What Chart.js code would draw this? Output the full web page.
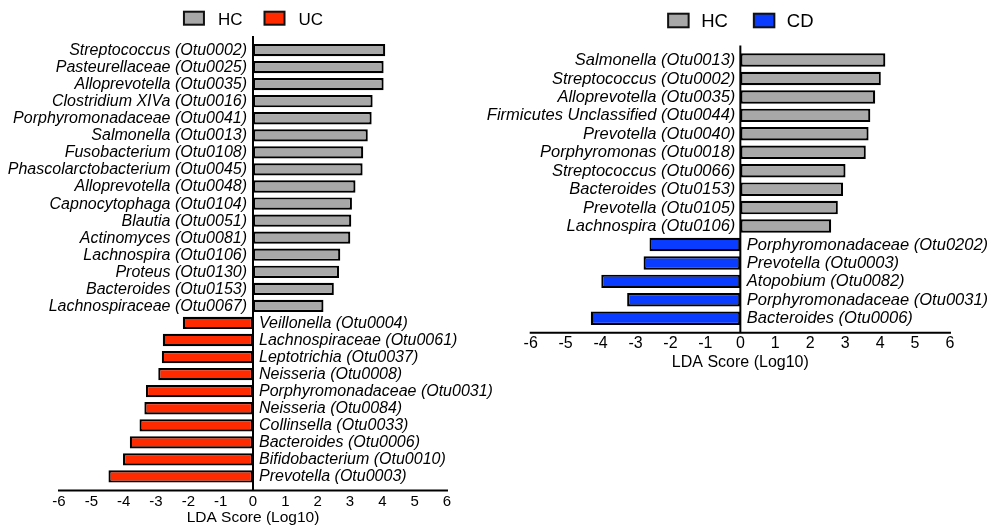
<!DOCTYPE html>
<html>
<head>
<meta charset="utf-8">
<script src="https://cdn.jsdelivr.net/npm/chart.js@4.4.1/dist/chart.umd.min.js"></script>
<style>
  html, body { margin: 0; padding: 0; background: #fff; }
  body { width: 989px; height: 527px; position: relative; overflow: hidden; }
  .wrap { position: absolute; top: 0; height: 527px; }
  #w1 { left: 0; width: 506px; }
  #w2 { left: 480px; width: 509px; }
</style>
</head>
<body>
<div class="wrap" id="w1"><canvas id="c1"></canvas></div>
<div class="wrap" id="w2"><canvas id="c2"></canvas></div>
<script>
// ---------- DATA ----------
const ticksX = [-6, -5, -4, -3, -2, -1, 0, 1, 2, 3, 4, 5, 6];
const axisTitle = 'LDA Score (Log10)';

// Panel 1: HC vs UC
const hcTaxaUC = [
  'Streptococcus (Otu0002)', 'Pasteurellaceae (Otu0025)', 'Alloprevotella (Otu0035)',
  'Clostridium XIVa (Otu0016)', 'Porphyromonadaceae (Otu0041)', 'Salmonella (Otu0013)',
  'Fusobacterium (Otu0108)', 'Phascolarctobacterium (Otu0045)', 'Alloprevotella (Otu0048)',
  'Capnocytophaga (Otu0104)', 'Blautia (Otu0051)', 'Actinomyces (Otu0081)',
  'Lachnospira (Otu0106)', 'Proteus (Otu0130)', 'Bacteroides (Otu0153)', 'Lachnospiraceae (Otu0067)'
];
const hcScoresUC = [4.09, 4.04, 4.04, 3.70, 3.67, 3.55, 3.41, 3.39, 3.17, 3.06, 3.04, 3.01, 2.70, 2.66, 2.50, 2.18];
const ucTaxa = [
  'Veillonella (Otu0004)', 'Lachnospiraceae (Otu0061)', 'Leptotrichia (Otu0037)',
  'Neisseria (Otu0008)', 'Porphyromonadaceae (Otu0031)', 'Neisseria (Otu0084)',
  'Collinsella (Otu0033)', 'Bacteroides (Otu0006)', 'Bifidobacterium (Otu0010)', 'Prevotella (Otu0003)'
];
const ucScores = [-2.17, -2.79, -2.82, -2.93, -3.31, -3.36, -3.51, -3.81, -4.02, -4.47];

// Panel 2: HC vs CD
const hcTaxaCD = [
  'Salmonella (Otu0013)', 'Streptococcus (Otu0002)', 'Alloprevotella (Otu0035)',
  'Firmicutes Unclassified (Otu0044)', 'Prevotella (Otu0040)', 'Porphyromonas (Otu0018)',
  'Streptococcus (Otu0066)', 'Bacteroides (Otu0153)', 'Prevotella (Otu0105)', 'Lachnospira (Otu0106)'
];
const hcScoresCD = [4.15, 4.02, 3.86, 3.72, 3.67, 3.59, 3.01, 2.94, 2.79, 2.60];
const cdTaxa = [
  'Porphyromonadaceae (Otu0202)', 'Prevotella (Otu0003)', 'Atopobium (Otu0082)',
  'Porphyromonadaceae (Otu0031)', 'Bacteroides (Otu0006)'
];
const cdScores = [-2.60, -2.77, -3.98, -3.24, -4.28];

// ---------- STYLE ----------
const FONT = '"Liberation Sans", Arial, Helvetica, sans-serif';
const GRAY = '#a8a8a8', RED = '#ff2a00', BLUE = '#0a3cff';

// Draw bar name labels next to the zero line (opposite side of each bar)
const barLabelPlugin = {
  id: 'barLabels',
  afterDatasetsDraw(chart, args, o) {
    const ctx = chart.ctx;
    const x0 = chart.scales.x.getPixelForValue(0);
    ctx.save();
    ctx.font = 'italic ' + o.size + 'px ' + FONT;
    ctx.fillStyle = '#000';
    ctx.textBaseline = 'middle';
    chart.data.datasets.forEach((ds, di) => {
      const meta = chart.getDatasetMeta(di);
      ds.data.forEach((v, i) => {
        if (v === null || v === undefined) return;
        const el = meta.data[i];
        if (v > 0) { ctx.textAlign = 'right'; ctx.fillText(chart.data.labels[i], x0 - o.gap, el.y + o.dy); }
        else { ctx.textAlign = 'left'; ctx.fillText(chart.data.labels[i], x0 + o.gapNeg, el.y + o.dy); }
      });
    });
    ctx.restore();
  }
};

// Axis line below plot and zero line extending a bit beyond the category bands
const axisLinesPlugin = {
  id: 'axisLines',
  afterDatasetsDraw(chart, args, o) {
    const ctx = chart.ctx, a = chart.chartArea;
    const x0 = chart.scales.x.getPixelForValue(0);
    const yAxis = a.bottom + o.ext;
    ctx.save();
    ctx.strokeStyle = '#000';
    ctx.lineWidth = 2;
    ctx.beginPath();
    ctx.moveTo(chart.scales.x.getPixelForValue(ticksX[0]) - 1, yAxis);
    ctx.lineTo(chart.scales.x.getPixelForValue(ticksX[ticksX.length - 1]) + 1, yAxis);
    ctx.moveTo(x0, a.top - o.ext);
    ctx.lineTo(x0, yAxis);
    ctx.stroke();
    ctx.restore();
  }
};

// Legend drawn at top, centered over zero
const topLegendPlugin = {
  id: 'topLegend',
  afterDraw(chart, args, o) {
    const ctx = chart.ctx;
    ctx.save();
    ctx.font = o.size + 'px ' + FONT;
    const items = chart.data.datasets;
    const widths = items.map(d => o.boxW + o.gap + ctx.measureText(d.label).width);
    const total = widths.reduce((s, w) => s + w, 0) + o.spacing * (items.length - 1);
    let x = chart.scales.x.getPixelForValue(0) - total / 2 + o.shift;
    items.forEach((d, i) => {
      ctx.fillStyle = d.backgroundColor;
      ctx.fillRect(x + 1, o.top + 1, o.boxW - 2, o.boxH - 2);
      ctx.strokeStyle = '#111';
      ctx.lineWidth = 2;
      ctx.strokeRect(x + 1, o.top + 1, o.boxW - 2, o.boxH - 2);
      ctx.fillStyle = '#000';
      ctx.textAlign = 'left';
      ctx.textBaseline = 'alphabetic';
      ctx.fillText(d.label, x + o.boxW + o.gap, o.baseline);
      x += widths[i] + o.spacing;
    });
    ctx.restore();
  }
};

function makeChart(id, hcTaxa, hcScores, dTaxa, dScores, dLabel, dColor, cfg) {
  const labels = hcTaxa.concat(dTaxa);
  const hcData = hcScores.concat(dTaxa.map(() => null));
  const dData = hcTaxa.map(() => null).concat(dScores);
  return new Chart(document.getElementById(id), {
    type: 'bar',
    data: {
      labels: labels,
      datasets: [
        { label: 'HC', data: hcData, backgroundColor: GRAY, borderColor: '#000', borderWidth: 2.2,
          borderSkipped: false, grouped: false, barPercentage: cfg.barPct, categoryPercentage: 1 },
        { label: dLabel, data: dData, backgroundColor: dColor, borderColor: '#000', borderWidth: 2.2,
          borderSkipped: false, grouped: false, barPercentage: cfg.barPct, categoryPercentage: 1 }
      ]
    },
    options: {
      indexAxis: 'y',
      responsive: true,
      maintainAspectRatio: false,
      animation: false,
      devicePixelRatio: 1,
      layout: { padding: cfg.padding },
      plugins: {
        legend: { display: false },
        tooltip: { enabled: false },
        barLabels: cfg.labels,
        axisLines: { ext: cfg.ext },
        topLegend: cfg.legend
      },
      scales: {
        x: {
          type: 'linear', min: ticksX[0], max: ticksX[ticksX.length - 1],
          afterBuildTicks: (s) => { s.ticks = ticksX.map(v => ({ value: v })); },
          grid: { display: false, drawTicks: false },
          border: { display: false },
          ticks: { color: '#000', font: { family: FONT, size: cfg.tickSize }, padding: cfg.tickPad, maxRotation: 0, autoSkip: false },
          title: { display: true, text: axisTitle, color: '#000', font: { family: FONT, size: cfg.titleSize }, padding: 0 },
          afterFit: (s) => { s.height = cfg.xHeight; }
        },
        y: { display: false, grid: { display: false } }
      }
    },
    plugins: [axisLinesPlugin, barLabelPlugin, topLegendPlugin]
  });
}

makeChart('c1', hcTaxaUC, hcScoresUC, ucTaxa, ucScores, 'UC', RED, {
  barPct: 0.72,
  padding: { left: 59, right: 59, top: 41.5, bottom: 0 },
  xHeight: 42,
  tickSize: 15, tickPad: 7.4, titleSize: 15.5,
  ext: 5.5,
  labels: { size: 16, gap: 6, gapNeg: 6, dy: 0.5 },
  legend: { size: 17, boxW: 22, boxH: 15, top: 10.7, gap: 13, spacing: 21, baseline: 24.5, shift: 0 }
});

makeChart('c2', hcTaxaCD, hcScoresCD, cdTaxa, cdScores, 'CD', BLUE, {
  barPct: 0.73,
  padding: { left: 50.7, right: 39, top: 50.8, bottom: 154.5 },
  xHeight: 45,
  tickSize: 16, tickPad: 6.2, titleSize: 16,
  ext: 5.2,
  labels: { size: 16.5, gap: 5, gapNeg: 6.5, dy: 0.5 },
  legend: { size: 18.5, boxW: 22.5, boxH: 15.6, top: 12.7, gap: 11.5, spacing: 25, baseline: 27.3, shift: 0 }
});
</script>
</body>
</html>
